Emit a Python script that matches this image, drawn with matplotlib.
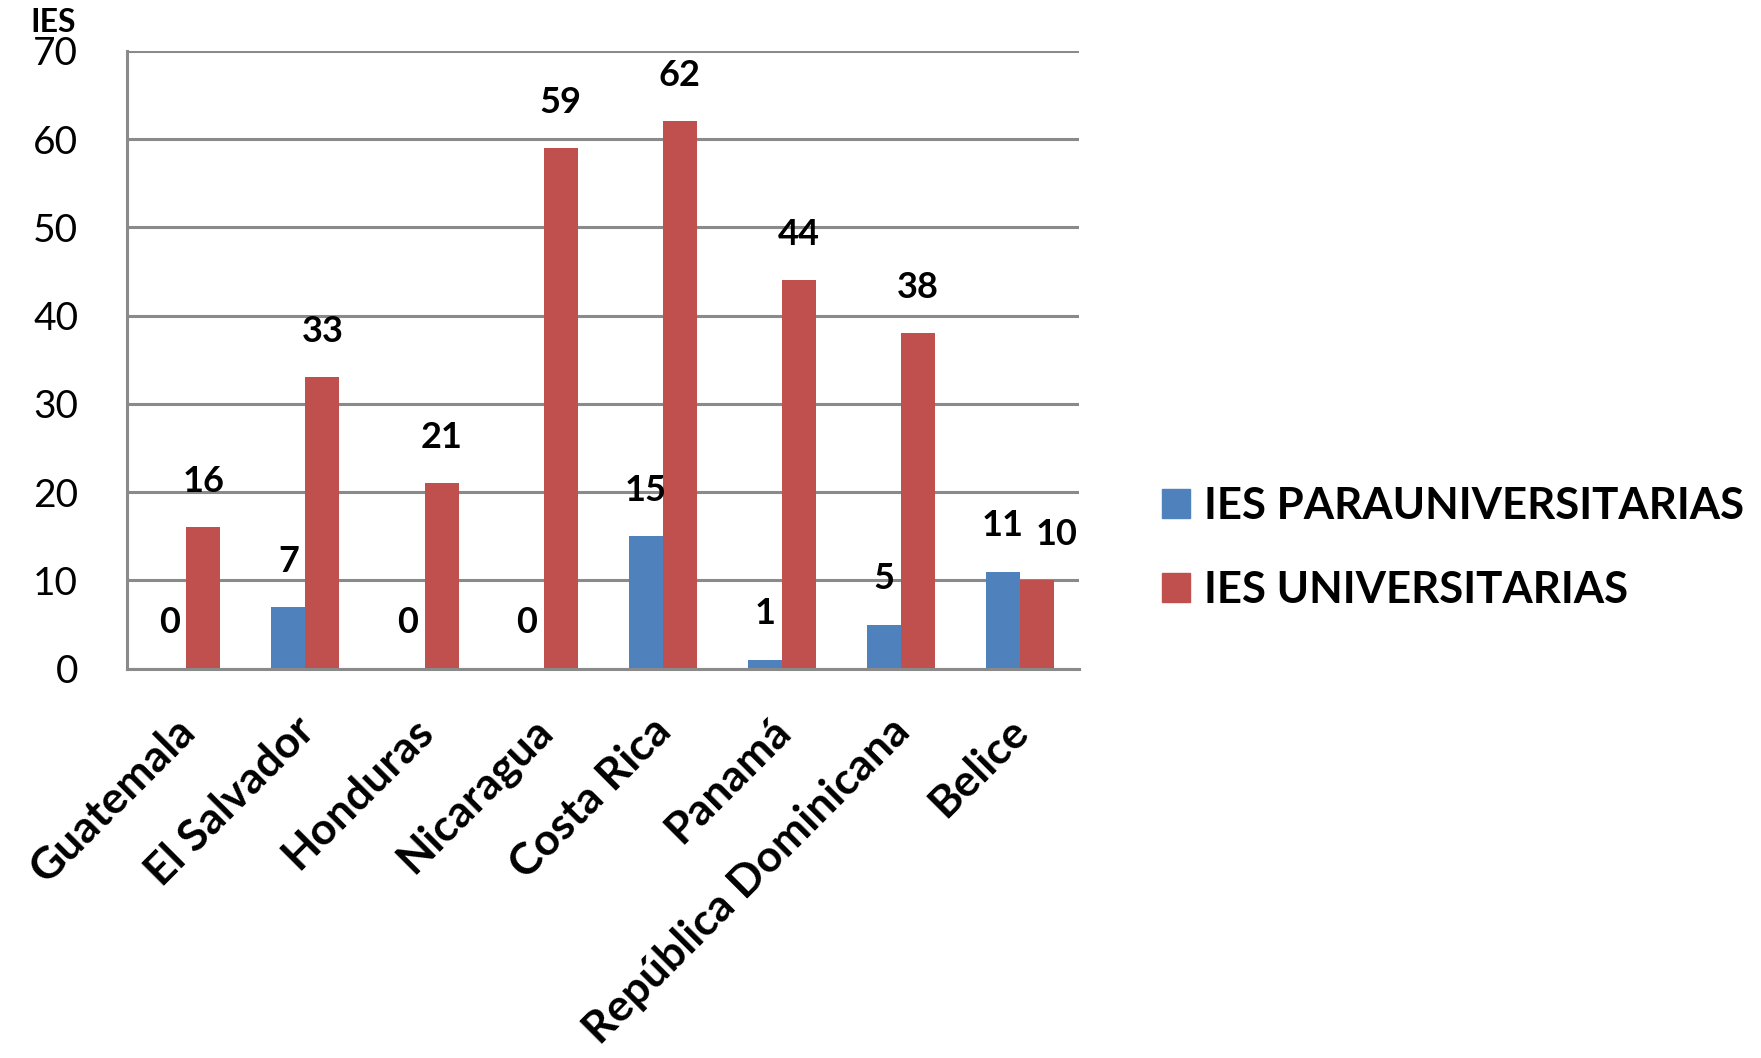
import matplotlib.pyplot as plt
import numpy as np
from matplotlib.patches import Patch
from matplotlib.transforms import ScaledTranslation

plt.rcParams['font.family'] = ['Lato', 'DejaVu Sans']

paises = ['Guatemala', 'El Salvador', 'Honduras', 'Nicaragua', 'Costa Rica',
          'Panamá', 'República Dominicana', 'Belice']
para_univ = [0, 7, 0, 0, 15, 1, 5, 11]
univ = [16, 33, 21, 59, 62, 44, 38, 10]
series_names = ['IES PARAUNIVERSITARIAS', 'IES UNIVERSITARIAS']
colors = ['#4F81BD', '#C0504D']
grid_color = '#8a8a8a'

fig = plt.figure(figsize=(17.61, 10.58), dpi=100)
ax = fig.add_axes([0.072, 0.368, 0.541, 0.584])

x = np.arange(len(paises))
w = 0.286
b1 = ax.bar(x - w/2, para_univ, w, color=colors[0], zorder=3)
b2 = ax.bar(x + w/2, univ, w, color=colors[1], zorder=3)

# value labels above the bars (last red one nudged right, as in the original)
for k, (bars, vals) in enumerate([(b1, para_univ), (b2, univ)]):
    for i, (r, v) in enumerate(zip(bars, vals)):
        dx = 14 if (k == 1 and i == len(vals) - 1) else 0
        ax.annotate(str(v), (r.get_x() + r.get_width()/2, v),
                    xytext=(dx, 33), textcoords='offset points',
                    ha='center', va='center', fontsize=26, fontweight='bold')

ax.set_xlim(-0.5, len(paises) - 0.5)
ax.set_ylim(0, 70)
ax.set_yticks(np.arange(0, 71, 10))
ax.yaxis.grid(True, color=grid_color, lw=2.2, zorder=0)
ax.set_axisbelow(True)
for s in ['top', 'right']:
    ax.spines[s].set_visible(False)
for s in ['left', 'bottom']:
    ax.spines[s].set_color(grid_color)
    ax.spines[s].set_linewidth(2.2)
    ax.spines[s].set_zorder(4)

ax.tick_params(axis='y', length=0, pad=35, labelsize=28)
ax.set_xticks(x)
ax.set_xticklabels(paises, rotation=45, ha='right', va='center',
                   rotation_mode='anchor', fontsize=32, fontweight='bold')
ax.tick_params(axis='x', length=0, pad=40)
shift = ScaledTranslation(2/100, 0, fig.dpi_scale_trans)
for lbl in ax.get_xticklabels():
    lbl.set_transform(lbl.get_transform() + shift)

fig.text(0.017, 0.979, 'IES', fontsize=23, fontweight='bold', va='center')

handles = [Patch(color=c) for c in colors]
fig.legend(handles, series_names, loc='center left',
           bbox_to_anchor=(0.66, 0.482), frameon=False,
           prop={'size': 31.5, 'weight': 'bold'},
           handlelength=0.64, handleheight=0.64, handletextpad=0.32,
           labelspacing=1.0, borderpad=0, borderaxespad=0)

fig.savefig('out.png', dpi=100)
